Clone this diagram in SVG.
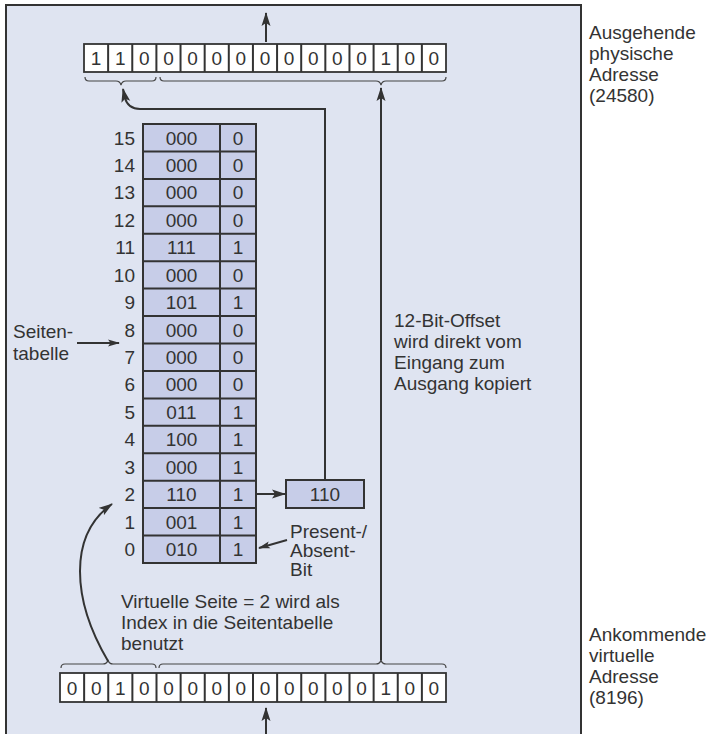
<svg xmlns="http://www.w3.org/2000/svg" width="712" height="734" viewBox="0 0 712 734">
<style>
text{font-family:"Liberation Sans",Arial,Helvetica,sans-serif;font-size:19px;fill:#333}
.c{text-anchor:middle}
.r{text-anchor:end}
.ln{fill:none;stroke:#333;stroke-width:2}
.br{fill:none;stroke:#444;stroke-width:1.2}
.cell{fill:#fff;stroke:#333;stroke-width:1.8}
.tab{fill:#c7cde8;stroke:#333;stroke-width:2}
</style>
<defs>
<marker id="ah" viewBox="0 0 14 10" refX="13" refY="5" markerWidth="14" markerHeight="10" markerUnits="userSpaceOnUse" orient="auto">
<path d="M0,0.5 L14,5 L0,9.5 L3,5 Z" fill="#333"/>
</marker>
<marker id="ahs" viewBox="0 0 12 8" refX="11" refY="4" markerWidth="12" markerHeight="8" markerUnits="userSpaceOnUse" orient="auto">
<path d="M0,0.5 L12,4 L0,7.5 L2.5,4 Z" fill="#333"/>
</marker>
</defs>
<rect x="6" y="5" width="575" height="745" fill="#dfe4f1" stroke="#333" stroke-width="2"/>

<g id="top-register">
<rect class="cell" x="84" y="44" width="362" height="28"/>
<path class="ln" stroke-width="1.8" d="M108.13,44V72M132.27,44V72M156.4,44V72M180.53,44V72M204.67,44V72M228.8,44V72M252.93,44V72M277.07,44V72M301.2,44V72M325.33,44V72M349.47,44V72M373.6,44V72M397.73,44V72M421.87,44V72"/>
<text class="c" x="96.1" y="65">1</text><text class="c" x="120.2" y="65">1</text><text class="c" x="144.3" y="65">0</text><text class="c" x="168.5" y="65">0</text><text class="c" x="192.6" y="65">0</text><text class="c" x="216.7" y="65">0</text><text class="c" x="240.9" y="65">0</text><text class="c" x="265" y="65">0</text><text class="c" x="289.1" y="65">0</text><text class="c" x="313.3" y="65">0</text><text class="c" x="337.4" y="65">0</text><text class="c" x="361.5" y="65">0</text><text class="c" x="385.7" y="65">1</text><text class="c" x="409.8" y="65">0</text><text class="c" x="433.9" y="65">0</text>
</g>

<g id="bottom-register">
<rect class="cell" x="60" y="673" width="386" height="29"/>
<path class="ln" stroke-width="1.8" d="M84.13,673V702M108.25,673V702M132.38,673V702M156.5,673V702M180.63,673V702M204.75,673V702M228.88,673V702M253,673V702M277.13,673V702M301.25,673V702M325.38,673V702M349.5,673V702M373.63,673V702M397.75,673V702M421.88,673V702"/>
<text class="c" x="72.1" y="694.5">0</text><text class="c" x="96.2" y="694.5">0</text><text class="c" x="120.3" y="694.5">1</text><text class="c" x="144.4" y="694.5">0</text><text class="c" x="168.6" y="694.5">0</text><text class="c" x="192.7" y="694.5">0</text><text class="c" x="216.8" y="694.5">0</text><text class="c" x="240.9" y="694.5">0</text><text class="c" x="265.1" y="694.5">0</text><text class="c" x="289.2" y="694.5">0</text><text class="c" x="313.3" y="694.5">0</text><text class="c" x="337.4" y="694.5">0</text><text class="c" x="361.6" y="694.5">0</text><text class="c" x="385.7" y="694.5">1</text><text class="c" x="409.8" y="694.5">0</text><text class="c" x="433.9" y="694.5">0</text>
</g>

<g id="page-table">
<rect class="tab" x="143" y="124" width="113" height="439"/>
<path class="ln" d="M220,124V563M143,151.4H256M143,178.9H256M143,206.3H256M143,233.8H256M143,261.2H256M143,288.6H256M143,316.1H256M143,343.5H256M143,370.9H256M143,398.4H256M143,425.8H256M143,453.3H256M143,480.7H256M143,508.1H256M143,535.6H256"/>
<text class="r" x="135" y="144.5">15</text><text class="c" x="181.5" y="144.5">000</text><text class="c" x="238" y="144.5">0</text>
<text class="r" x="135" y="172">14</text><text class="c" x="181.5" y="172">000</text><text class="c" x="238" y="172">0</text>
<text class="r" x="135" y="199.4">13</text><text class="c" x="181.5" y="199.4">000</text><text class="c" x="238" y="199.4">0</text>
<text class="r" x="135" y="226.8">12</text><text class="c" x="181.5" y="226.8">000</text><text class="c" x="238" y="226.8">0</text>
<text class="r" x="135" y="254.3">11</text><text class="c" x="181.5" y="254.3">111</text><text class="c" x="238" y="254.3">1</text>
<text class="r" x="135" y="281.7">10</text><text class="c" x="181.5" y="281.7">000</text><text class="c" x="238" y="281.7">0</text>
<text class="r" x="135" y="309.1">9</text><text class="c" x="181.5" y="309.1">101</text><text class="c" x="238" y="309.1">1</text>
<text class="r" x="135" y="336.6">8</text><text class="c" x="181.5" y="336.6">000</text><text class="c" x="238" y="336.6">0</text>
<text class="r" x="135" y="364">7</text><text class="c" x="181.5" y="364">000</text><text class="c" x="238" y="364">0</text>
<text class="r" x="135" y="391.4">6</text><text class="c" x="181.5" y="391.4">000</text><text class="c" x="238" y="391.4">0</text>
<text class="r" x="135" y="418.9">5</text><text class="c" x="181.5" y="418.9">011</text><text class="c" x="238" y="418.9">1</text>
<text class="r" x="135" y="446.3">4</text><text class="c" x="181.5" y="446.3">100</text><text class="c" x="238" y="446.3">1</text>
<text class="r" x="135" y="473.8">3</text><text class="c" x="181.5" y="473.8">000</text><text class="c" x="238" y="473.8">1</text>
<text class="r" x="135" y="501.2">2</text><text class="c" x="181.5" y="501.2">110</text><text class="c" x="238" y="501.2">1</text>
<text class="r" x="135" y="528.6">1</text><text class="c" x="181.5" y="528.6">001</text><text class="c" x="238" y="528.6">1</text>
<text class="r" x="135" y="556.1">0</text><text class="c" x="181.5" y="556.1">010</text><text class="c" x="238" y="556.1">1</text>
</g>

<g id="frame-box">
<rect class="tab" x="286" y="480" width="78" height="28"/>
<text class="c" x="325" y="501">110</text>
</g>

<g id="braces">
<path class="br" d="M85,77 Q85,81 89,81 H116 Q120,81 121,85 Q122,81 126,81 H152 Q156,81 156,77"/>
<path class="br" d="M160,77 Q160,81 164,81 H376 Q380,81 381,85 Q382,81 386,81 H442 Q446,81 446,77"/>
<path class="br" d="M61,668 Q61,664 65,664 H103 Q107,664 108,660 Q109,664 113,664 H152 Q156,664 156,668"/>
<path class="br" d="M159,668 Q159,664 163,664 H376 Q380,664 381,660 Q382,664 386,664 H442 Q446,664 446,668"/>
</g>

<g id="connectors">
<path class="ln" d="M266,42 V13" marker-end="url(#ah)"/>
<path class="ln" d="M266,734 V708" marker-end="url(#ah)"/>
<path class="ln" d="M325,480 V109 H140 Q128,109 125,98 L123,89" marker-end="url(#ah)"/>
<path class="ln" d="M381,660 V88" marker-end="url(#ah)"/>
<path class="ln" d="M256,494 H285" marker-end="url(#ah)"/>
<path class="ln" d="M108,661 C72,600 68,535 112,504" marker-end="url(#ah)"/>
<path class="ln" stroke-width="1.3" d="M77,343 H119" marker-end="url(#ahs)"/>
<path class="ln" stroke-width="1.3" d="M287,540 L259,548" marker-end="url(#ahs)"/>
</g>

<g id="labels">
<text x="13" y="338">Seiten-</text>
<text x="13" y="360">tabelle</text>
<text x="290" y="538">Present-/</text>
<text x="290" y="557">Absent-</text>
<text x="290" y="576">Bit</text>
<text x="121" y="608">Virtuelle Seite = 2 wird als</text>
<text x="121" y="629">Index in die Seitentabelle</text>
<text x="121" y="650">benutzt</text>
<text x="394" y="327">12-Bit-Offset</text>
<text x="394" y="348">wird direkt vom</text>
<text x="394" y="369">Eingang zum</text>
<text x="394" y="390">Ausgang kopiert</text>
<text x="589" y="39">Ausgehende</text>
<text x="589" y="60">physische</text>
<text x="589" y="81">Adresse</text>
<text x="589" y="102">(24580)</text>
<text x="589" y="641">Ankommende</text>
<text x="589" y="662">virtuelle</text>
<text x="589" y="683">Adresse</text>
<text x="589" y="704">(8196)</text>
</g>
</svg>
